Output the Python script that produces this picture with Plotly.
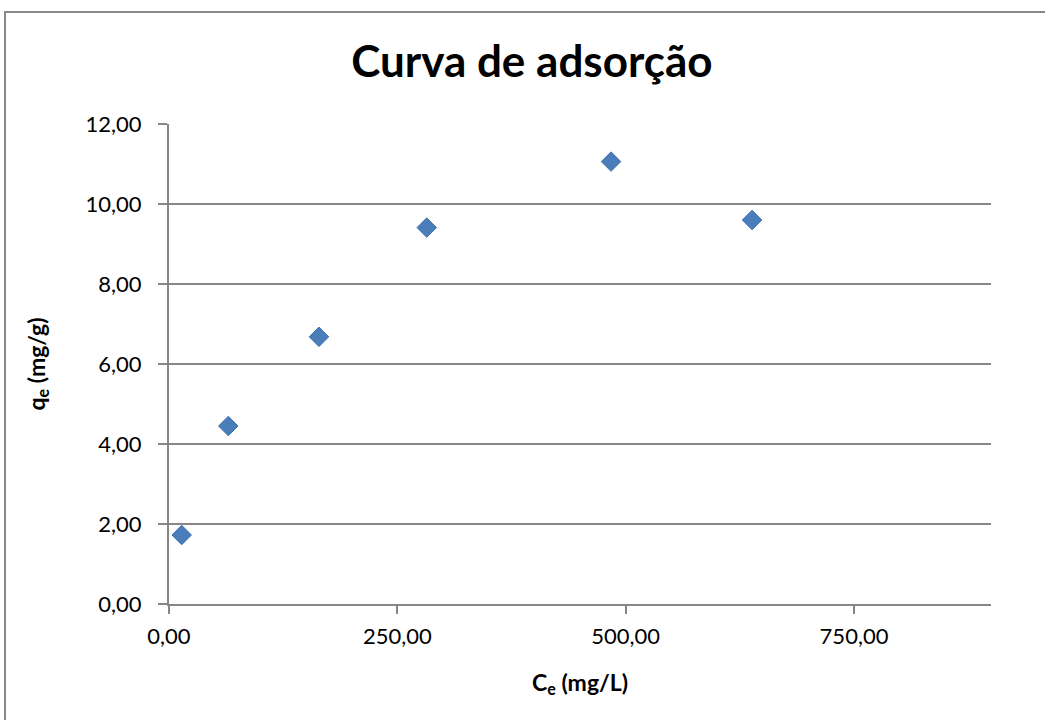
import plotly.graph_objects as go

ce = [13.9, 64.9, 164.2, 282.2, 484.0, 638.4]
qe = [1.725, 4.45, 6.68, 9.41, 11.06, 9.60]
x_ticks = [0, 250, 500, 750]
y_ticks = [0, 2, 4, 6, 8, 10, 12]

FONT = "Lato, Carlito, Calibri, sans-serif"
GRID = "#868686"

fig = go.Figure()
fig.add_trace(go.Scatter(
    x=ce, y=qe, mode="markers",
    marker=dict(symbol="diamond", size=15, color="#4A7EBB",
                line=dict(color="#3F6FA9", width=1)),
    showlegend=False,
))

fig.update_layout(
    width=1045, height=720,
    paper_bgcolor="white", plot_bgcolor="white",
    margin=dict(l=169, r=54, t=124, b=116),
    separators=",.",
    font=dict(family=FONT, color="#000000", size=22),
    title=dict(text="<b>Curva de adsorção</b>", x=0.509, xanchor="center",
               y=0.914, yanchor="middle",
               font=dict(family=FONT, size=44, color="#000000")),
    shapes=[dict(type="rect", xref="paper", yref="paper",
                 x0=-0.1995, x1=1.3, y0=-0.5, y1=1.2333,
                 line=dict(color="#878787", width=2), layer="below")],
)
fig.update_xaxes(
    range=[0, 900], tickvals=x_ticks, tickformat=".2f",
    showgrid=False, zeroline=False,
    showline=True, linecolor=GRID, linewidth=2,
    ticks="outside", ticklen=8, tickwidth=2, tickcolor=GRID,
    ticklabelstandoff=4,
    tickfont=dict(family=FONT, size=22),
    title=dict(text="<b>C<sub>e</sub> (mg/L)</b>", standoff=26,
               font=dict(family=FONT, size=23)),
)
fig.update_yaxes(
    range=[0, 12], tickvals=y_ticks, tickformat=".2f",
    showgrid=True, gridcolor=GRID, gridwidth=2, zeroline=False,
    showline=True, linecolor=GRID, linewidth=2,
    ticks="outside", ticklen=9, tickwidth=2, tickcolor=GRID,
    ticklabelstandoff=12,
    tickfont=dict(family=FONT, size=22),
    title=dict(text="<b>q<sub>e</sub> (mg/g)</b>", standoff=34,
               font=dict(family=FONT, size=23)),
)

fig.write_html("out.html")
